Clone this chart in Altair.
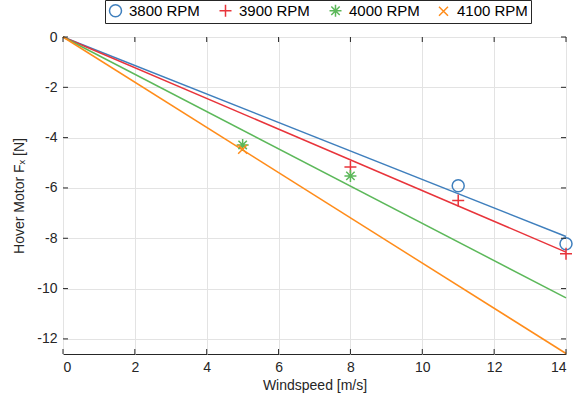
import altair as alt
import pandas as pd

# ---- data ----
series = ["3800 RPM", "3900 RPM", "4000 RPM", "4100 RPM"]
colors = ["#3f7fbd", "#e8343b", "#5cb85a", "#ff8c1a"]

# fitted lines: from (0,0) to (14, end)
fit_x0 = 0
fit_x1 = 14
fit_end = [-7.93, -8.55, -10.37, -12.58]

# measured points
pt_series = ["3800 RPM", "3800 RPM",
             "3900 RPM", "3900 RPM", "3900 RPM",
             "4000 RPM", "4000 RPM",
             "4100 RPM"]
pt_x = [11, 14, 8, 11, 14, 5, 8, 5]
pt_y = [-5.91, -8.22, -5.17, -6.50, -8.62, -4.29, -5.52, -4.46]

x_ticks = [0, 2, 4, 6, 8, 10, 12, 14]
y_ticks = [0, -2, -4, -6, -8, -10, -12]

W, H = 503, 317
FONT = "Liberation Sans"
AX = "#262626"

line_rows = []
for s, e in zip(series, fit_end):
    line_rows.append({"series": s, "x": fit_x0, "y": 0.0})
    line_rows.append({"series": s, "x": fit_x1, "y": e})
lines_df = pd.DataFrame(line_rows)
pts_df = pd.DataFrame({"series": pt_series, "x": pt_x, "y": pt_y})

xscale = alt.Scale(domain=[0, 14], nice=False, zero=False)
yscale = alt.Scale(domain=[-12.6, 0], nice=False, zero=False)
cscale = alt.Scale(domain=series, range=colors)

shapes = [
    "circle",
    "M-1,0L1,0M0,-1L0,1",
    "M-1,0L1,0M0,-1L0,1M-0.7,-0.7L0.7,0.7M-0.7,0.7L0.7,-0.7",
    "M-0.75,-0.75L0.75,0.75M-0.75,0.75L0.75,-0.75",
]
sscale = alt.Scale(domain=series, range=shapes)

lab = "'' + datum.value"
xaxis = alt.Axis(values=x_ticks, title="Windspeed [m/s]", grid=True, ticks=False,
                 domain=False, labelPadding=6, titlePadding=4, labelExpr=lab)
yaxis = alt.Axis(values=y_ticks, title="Hover Motor Fₓ [N]", grid=True, ticks=False,
                 domain=False, labelPadding=6, titlePadding=10, labelExpr=lab)

# one line layer per series (fixed colour each)
line_layers = []
for i, (s, c) in enumerate(zip(series, colors)):
    base = alt.Chart(lines_df).transform_filter(alt.datum.series == s).mark_line(
        strokeWidth=1.5, color=c)
    if i == 0:
        enc = base.encode(x=alt.X("x:Q", scale=xscale, axis=xaxis),
                          y=alt.Y("y:Q", scale=yscale, axis=yaxis))
    else:
        enc = base.encode(x=alt.X("x:Q", scale=xscale),
                          y=alt.Y("y:Q", scale=yscale))
    line_layers.append(enc)

legend = alt.Legend(
    title=None, orient="none", direction="horizontal",
    legendX=42, legendY=-37,
    fillColor="white", strokeColor=AX, padding=3,
    labelFont=FONT, labelFontSize=15, labelColor="#000000",
    symbolSize=144, symbolStrokeWidth=1.5, labelOffset=6,
    columnPadding=16,
)

points = alt.Chart(pts_df).mark_point(filled=False, size=144, strokeWidth=1.5, opacity=1).encode(
    x=alt.X("x:Q", scale=xscale),
    y=alt.Y("y:Q", scale=yscale),
    color=alt.Color("series:N", scale=cscale, legend=legend),
    shape=alt.Shape("series:N", scale=sscale, legend=legend),
)

# inward tick marks on all four sides
xt_df = pd.DataFrame({"v": x_ticks})
yt_df = pd.DataFrame({"v": y_ticks})
tk = dict(color=AX, strokeWidth=1)
t_bottom = alt.Chart(xt_df).mark_rule(**tk).encode(
    x=alt.X("v:Q", scale=xscale), y=alt.value(H), y2=alt.value(H - 5))
t_top = alt.Chart(xt_df).mark_rule(**tk).encode(
    x=alt.X("v:Q", scale=xscale), y=alt.value(0), y2=alt.value(5))
t_left = alt.Chart(yt_df).mark_rule(**tk).encode(
    y=alt.Y("v:Q", scale=yscale), x=alt.value(0), x2=alt.value(5))
t_right = alt.Chart(yt_df).mark_rule(**tk).encode(
    y=alt.Y("v:Q", scale=yscale), x=alt.value(W - 5), x2=alt.value(W))

chart = alt.layer(*line_layers, points, t_bottom, t_top, t_left, t_right).properties(
    width=W, height=H,
    autosize=alt.AutoSizeParams(type="none"),
    padding={"left": 63, "top": 37, "right": 8, "bottom": 51},
    background="white",
).configure_view(
    stroke=AX, strokeWidth=1,
).configure_axis(
    labelFont=FONT, labelFontSize=14, labelColor=AX,
    titleFont=FONT, titleFontSize=14, titleColor=AX, titleFontWeight="normal",
    gridColor="#e3e3e3", gridWidth=1,
)

chart.save("out.html", embed_options={"renderer": "svg", "actions": False})
